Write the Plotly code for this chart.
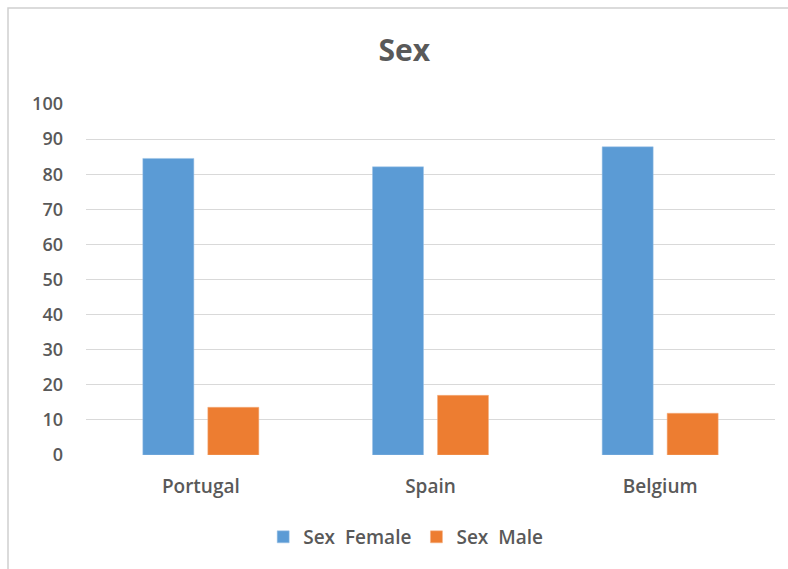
import plotly.graph_objects as go

# Share of respondents by sex in each country (%)
countries = ["Portugal", "Spain", "Belgium"]
female = [84.5, 82.1, 87.8]
male = [13.6, 17.0, 11.9]
series_names = ["Sex\u00a0 Female", "Sex\u00a0 Male"]
y_ticks = list(range(0, 101, 10))

BLUE = "#5B9BD5"
ORANGE = "#ED7D31"
TEXT = "#595959"
GRID = "#D9D9D9"
FONT = "Open Sans"

fig = go.Figure()
fig.add_trace(go.Bar(x=countries, y=female, name=series_names[0],
                     marker=dict(color=BLUE, line=dict(color="#9DC3E6", width=0.5))))
fig.add_trace(go.Bar(x=countries, y=male, name=series_names[1],
                     marker=dict(color=ORANGE, line=dict(color="#F4B183", width=0.5))))

W, H = 788, 569
L, R, T, B = 86, 13, 104, 114
pw, ph = W - L - R, H - T - B

fig.update_layout(
    width=W, height=H,
    margin=dict(l=L, r=R, t=T, b=B),
    paper_bgcolor="white", plot_bgcolor="white",
    barmode="group", bargap=0.434, bargroupgap=0.215,
    font=dict(family=FONT, color=TEXT, size=17),
    title=dict(text="<b>Sex</b>", x=0.513, xanchor="center", y=1 - 50 / H, yanchor="middle",
               font=dict(family=FONT, size=30, color=TEXT)),
    xaxis=dict(showgrid=False, showline=False, ticks="", ticklabelstandoff=18,
               tickfont=dict(family=FONT, size=19, color=TEXT, weight=600)),
    yaxis=dict(range=[0, 100], tickvals=y_ticks, showgrid=True, gridcolor=GRID, gridwidth=1.3,
               zeroline=False, showline=False, ticks="", ticklabelstandoff=22,
               tickfont=dict(family=FONT, size=18, color=TEXT, weight=600)),
    legend=dict(orientation="h", x=0.464, xanchor="center", y=-(537 - 455) / ph, yanchor="middle",
                font=dict(family=FONT, size=19, color=TEXT, weight=600), itemwidth=30,
                traceorder="normal"),
    showlegend=True,
)

# chart area outline
fig.add_shape(type="rect", xref="paper", yref="paper",
              x0=(8 - L) / pw, x1=(W + 4 - L) / pw,
              y0=-(H + 4 - T - ph) / ph, y1=1 + (T - 8) / ph,
              line=dict(color="#D0D0D0", width=1.5), fillcolor="rgba(0,0,0,0)", layer="below")

fig.write_html("out.html")
